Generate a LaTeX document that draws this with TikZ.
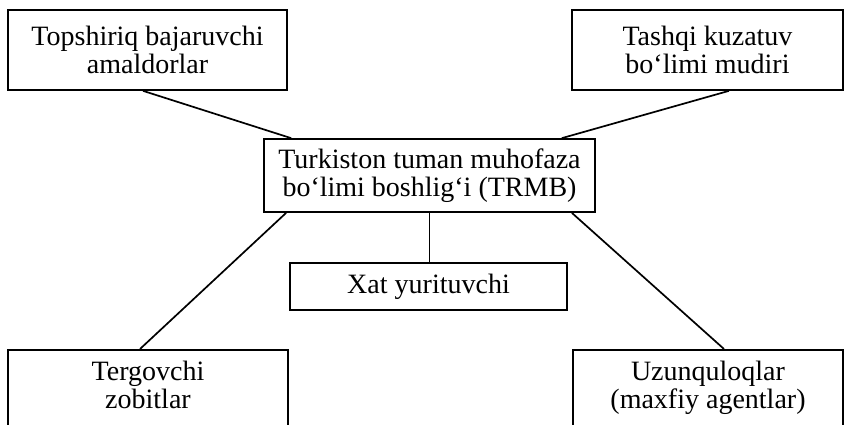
\documentclass[tikz,border=0pt]{standalone}
\usepackage{fontspec}
\setmainfont{Liberation Serif}
\usepackage{tikz}

\begin{document}
\begin{tikzpicture}[x=1pt,y=-1pt,
  box/.style={draw,line width=1.7pt,align=center,inner sep=0pt,
    font=\fontsize{28}{28}\selectfont},
  link/.style={line width=1.7pt}]
  % Page frame
  \useasboundingbox (0,0) rectangle (848,425);
  \clip (0,0) rectangle (848,425);

  % Top boxes
  \node[box,minimum width=279pt,minimum height=80pt] (topl) at (147.5,50) {Topshiriq bajaruvchi\\amaldorlar};
  \node[box,minimum width=271pt,minimum height=80pt] (topr) at (707.5,50) {Tashqi kuzatuv\\bo‘limi mudiri};

  % Head of the department and the clerk
  \node[box,minimum width=331pt,minimum height=73pt] (trmb) at (429.5,175.5) {Turkiston tuman muhofaza\\bo‘limi boshlig‘i (TRMB)};
  \node[box,minimum width=277pt,minimum height=47pt] (xat) at (428.5,286.5) {Xat yurituvchi};

  % Bottom boxes (run off the page edge)
  \node[box,anchor=north,minimum width=280pt,inner ysep=11pt,text depth=60pt] (tergov) at (148,349) {Tergovchi\\zobitlar};
  \node[box,anchor=north,minimum width=270pt,inner ysep=11pt,text depth=60pt] (uzun) at (708,349) {Uzunquloqlar\\(maxfiy agentlar)};

  % Links
  \draw[link] ([xshift=-4.5pt]topl.south) -- ([xshift=28pt]trmb.north west);
  \draw[link] ([xshift=21.5pt]topr.south) -- ([xshift=-34pt]trmb.north east);
  \draw[link] ([xshift=23pt]trmb.south west) -- ([xshift=-8pt]tergov.north);
  \draw[link] ([xshift=-24pt]trmb.south east) -- ([xshift=16pt]uzun.north);
  \draw[link] (trmb.south) -- (trmb.south |- xat.north);
\end{tikzpicture}
\end{document}
